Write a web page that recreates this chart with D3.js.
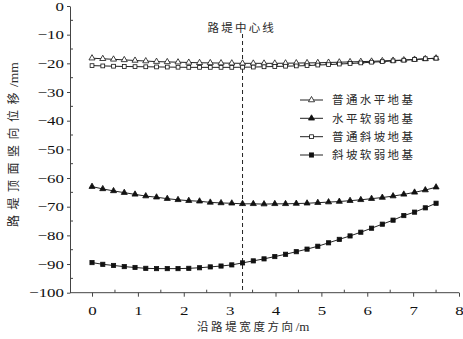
<!DOCTYPE html>
<html><head><meta charset="utf-8">
<script src="https://cdn.jsdelivr.net/npm/d3@7"></script>
<style>
body{margin:0;background:#fff;}
svg{display:block;}
</style></head>
<body>
<svg id="c" width="463" height="339"></svg>
<script>
// ---- data ----
const nPts = 33;
const xStep = 7.5 / 32;
const xValues = d3.range(nPts).map(i => i * xStep);
const seriesNames = ["普通水平地基", "水平软弱地基", "普通斜坡地基", "斜坡软弱地基"];
const normalFlat = [-18.2,-18.4,-18.6,-18.8,-19.0,-19.2,-19.4,-19.5,-19.6,-19.7,-19.8,-19.85,-19.9,-19.95,-20.0,-20.0,-20.0,-20.0,-19.95,-19.9,-19.85,-19.8,-19.7,-19.6,-19.5,-19.4,-19.3,-19.15,-19.0,-18.85,-18.65,-18.45,-18.2];
const softFlat = [-63.0,-63.8,-64.5,-65.1,-65.7,-66.3,-66.7,-67.2,-67.6,-67.9,-68.1,-68.5,-68.7,-68.8,-69.0,-69.0,-69.1,-69.0,-69.0,-68.9,-68.8,-68.6,-68.4,-68.2,-67.9,-67.6,-67.2,-66.8,-66.3,-65.7,-65.0,-64.2,-63.2];
const normalSlope = [-20.8,-20.9,-21.0,-21.1,-21.15,-21.2,-21.25,-21.3,-21.35,-21.4,-21.4,-21.4,-21.4,-21.4,-21.35,-21.3,-21.2,-21.1,-21.0,-20.9,-20.8,-20.6,-20.45,-20.25,-20.05,-19.85,-19.6,-19.4,-19.15,-18.9,-18.65,-18.4,-18.2];
const softSlope = [-89.5,-90.1,-90.5,-90.9,-91.2,-91.5,-91.6,-91.6,-91.6,-91.5,-91.3,-91.0,-90.7,-90.3,-89.6,-88.9,-88.2,-87.4,-86.6,-85.7,-84.8,-83.8,-82.6,-81.4,-80.2,-78.9,-77.5,-76.1,-74.7,-73.1,-71.9,-70.4,-68.8];
const centerX = 14 * xStep;
const xTicks = [0,1,2,3,4,5,6,7,8];
const xMinorTicks = [0.5,1.5,2.5,3.5,4.5,5.5,6.5,7.5];
const yTicks = [0,-10,-20,-30,-40,-50,-60,-70,-80,-90,-100];
const yMinorTicks = [-5,-15,-25,-35,-45,-55,-65,-75,-85,-95];
const markerTypes = ["triOpen","triFill","sqOpen","sqFill"];

// ---- chart ----
const svg = d3.select("#c");
const x = d3.scaleLinear().domain([-0.48, 8]).range([70, 459]);
const y = d3.scaleLinear().domain([-100, 0]).range([292.7, 6]);
const axisColor = "#444";
const numFont = "'Liberation Serif','Times New Roman',serif";
const cjkFont = "'Noto Sans CJK SC','Noto Sans CJK JP',sans-serif";
const textColor = "#2a2a2a";

function stretch(sel, k) {
  sel.each(function(){
    const L = this.getComputedTextLength();
    d3.select(this).attr("textLength", L * k).attr("lengthAdjust", "spacingAndGlyphs");
  });
}

// x axis
const gx = svg.append("g").attr("transform", `translate(0,${y(-100)})`)
  .call(d3.axisBottom(x).tickValues(xTicks).tickSize(4).tickPadding(9).tickSizeOuter(0));
gx.select(".domain").attr("stroke", axisColor).attr("d", `M${x.range()[0]},0H${x.range()[1]}`);
gx.selectAll(".tick line").attr("stroke", axisColor);
gx.selectAll(".tick text").attr("font-family", numFont).attr("font-size", 13).attr("fill", "#111")
  .attr("y", 22.5).attr("dy", null);
stretch(gx.selectAll(".tick text"), 1.3);
gx.append("g").selectAll("line").data(xMinorTicks).join("line")
  .attr("x1", d => x(d)).attr("x2", d => x(d)).attr("y1", 0).attr("y2", -3).attr("stroke", axisColor);

// y axis
const gy = svg.append("g").attr("transform", `translate(${x(-0.48)},0)`)
  .call(d3.axisLeft(y).tickValues(yTicks).tickSize(3).tickPadding(3).tickSizeOuter(0));
gy.select(".domain").attr("stroke", axisColor);
gy.selectAll(".tick line").attr("stroke", axisColor);
gy.selectAll(".tick text").attr("font-family", numFont).attr("font-size", 13).attr("fill", "#111");
stretch(gy.selectAll(".tick text"), 1.3);
gy.append("g").selectAll("line").data(yMinorTicks).join("line")
  .attr("x1", 0).attr("x2", 3).attr("y1", d => y(d)).attr("y2", d => y(d)).attr("stroke", axisColor);

// center line
svg.append("line").attr("x1", x(centerX)).attr("x2", x(centerX))
  .attr("y1", 34).attr("y2", y(-100))
  .attr("stroke", "#222").attr("stroke-width", 1).attr("stroke-dasharray", "4,3");
svg.append("text").attr("x", x(centerX) - 35).attr("y", 32)
  .attr("font-family", cjkFont).attr("font-size", 11.5).attr("fill", textColor)
  .attr("letter-spacing", 2.2).text("路堤中心线");

// series
const allSeries = [normalFlat, softFlat, normalSlope, softSlope];
const line = d3.line().x((d, i) => x(xValues[i])).y(d => y(d));
function drawMarker(g, type, cx, cy) {
  const fill = type.endsWith("Fill") ? "#111" : "#fff";
  if (type.startsWith("tri")) {
    g.append("path").attr("d", d3.symbol(d3.symbolTriangle, 16)()).attr("transform", `translate(${cx},${cy})`)
      .attr("fill", fill).attr("stroke", "#111").attr("stroke-width", 0.8);
  } else {
    const s = type === "sqFill" ? 4.2 : 3.8;
    g.append("rect").attr("x", cx - s/2).attr("y", cy - s/2).attr("width", s).attr("height", s)
      .attr("fill", fill).attr("stroke", "#111").attr("stroke-width", 0.8);
  }
}
allSeries.forEach((vals, k) => {
  const g = svg.append("g");
  g.append("path").attr("d", line(vals)).attr("fill", "none").attr("stroke", "#222").attr("stroke-width", 1);
  vals.forEach((v, i) => drawMarker(g, markerTypes[k], x(xValues[i]), y(v)));
});

// legend
const legendY = [100, 118.3, 136.7, 155];
seriesNames.forEach((name, k) => {
  const g = svg.append("g");
  g.append("line").attr("x1", 300).attr("x2", 323).attr("y1", legendY[k]).attr("y2", legendY[k])
    .attr("stroke", "#222").attr("stroke-width", 1);
  drawMarker(g, markerTypes[k], 311.5, legendY[k]);
  g.append("text").attr("x", 332).attr("y", legendY[k] + 4.3)
    .attr("font-family", cjkFont).attr("font-size", 11.5).attr("fill", textColor)
    .attr("letter-spacing", 2.4).text(name);
});

// axis titles
const xt = svg.append("text").attr("x", 197).attr("y", 331)
  .attr("font-family", cjkFont).attr("font-size", 11.5).attr("fill", textColor);
xt.append("tspan").attr("letter-spacing", 2.6).text("沿路堤宽度方向");
xt.append("tspan").attr("font-family", numFont).attr("font-size", 13).text("/m");

const yt = svg.append("text").attr("transform", "translate(18,227) rotate(-90)")
  .attr("font-family", cjkFont).attr("font-size", 12).attr("fill", textColor);
yt.append("tspan").attr("letter-spacing", 5.5).text("路堤顶面竖向位移");
yt.append("tspan").attr("font-family", numFont).attr("font-size", 13.5).text("/mm");
</script>
</body></html>
